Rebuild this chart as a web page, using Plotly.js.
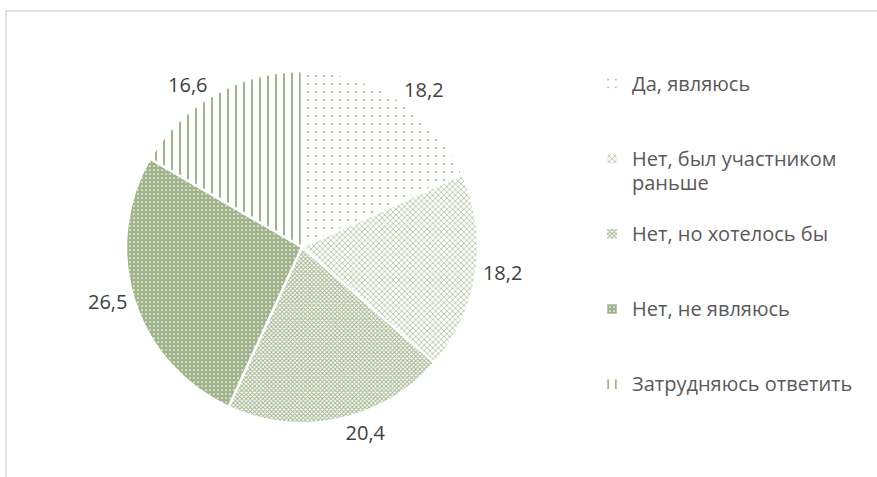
<!DOCTYPE html>
<html>
<head>
<meta charset="utf-8">
<script src="https://cdn.plot.ly/plotly-3.0.1.min.js"></script>
<style>html,body{margin:0;padding:0;background:#fff;}#chart{width:877px;height:477px;}</style>
</head>
<body>
<div id="chart"></div>
<script>
// Data
const categories = ["Да, являюсь", "Нет, был участником раньше", "Нет, но хотелось бы", "Нет, не являюсь", "Затрудняюсь ответить"];
const values = [18.2, 18.2, 20.4, 26.5, 16.6];
// legend labels (line breaks / spacing only)
const S = t => '<span style="font-size:20px">' + t + '</span>';
const legendLabels = [
  S("Да, являюсь") + "<br>&nbsp;<br>&nbsp;",
  S("Нет, был участником") + "<br>" + S("раньше") + "<br>&nbsp;",
  S("Нет, но хотелось бы") + "<br>&nbsp;<br>&nbsp;",
  S("Нет, не являюсь") + "<br>&nbsp;<br>&nbsp;",
  S("Затрудняюсь ответить")
];
const valueText = values.map(v => v.toFixed(1).replace('.', ','));

const G = '#9fb48a';
const trace = {
  type: 'pie',
  labels: legendLabels,
  values: values,
  text: valueText,
  textinfo: 'text',
  textposition: 'outside',
  sort: false,
  direction: 'clockwise',
  rotation: 0,
  hoverinfo: 'none',
  textfont: {family: '"Open Sans", "Noto Sans", sans-serif', size: 20, color: '#404040'},
  marker: {
    colors: ['#ffffff', '#ffffff', '#ffffff', G, '#ffffff'],
    line: {color: '#ffffff', width: 2.5},
    pattern: {
      shape: ['.', 'x', 'x', '.', '|'],
      fgcolor: [G, '#aabd95', G, '#ffffff', G],
      bgcolor: ['#ffffff', '#ffffff', '#ffffff', G, '#ffffff'],
      size: [8, 4, 3, 4, 8],
      solidity: [0.06, 0.35, 0.55, 0.15, 0.25],
      fillmode: 'replace'
    }
  },
  domain: {x: [126/877, 478/877], y: [1 - 423/477, 1 - 71/477]}
};

const gray = '#d9d9d9';
const layout = {
  width: 877, height: 477,
  margin: {l: 0, r: 0, t: 0, b: 0},
  paper_bgcolor: '#ffffff',
  showlegend: true,
  legend: {
    x: 592/877, y: 1 - 65/477, xanchor: 'left', yanchor: 'top',
    valign: 'top',
    font: {family: '"Open Sans", "Noto Sans", sans-serif', size: 18.5, color: '#595959'},
    bgcolor: 'rgba(0,0,0,0)'
  },
  shapes: [
    {type: 'line', xref: 'paper', yref: 'paper', x0: 5/877, x1: 1, y0: 1 - 11/477, y1: 1 - 11/477, line: {color: gray, width: 1.5}},
    {type: 'line', xref: 'paper', yref: 'paper', x0: 6/877, x1: 6/877, y0: 1 - 11/477, y1: 0, line: {color: gray, width: 1.5}}
  ]
};

Plotly.newPlot('chart', [trace], layout, {displayModeBar: false, staticPlot: true});
</script>
</body>
</html>
